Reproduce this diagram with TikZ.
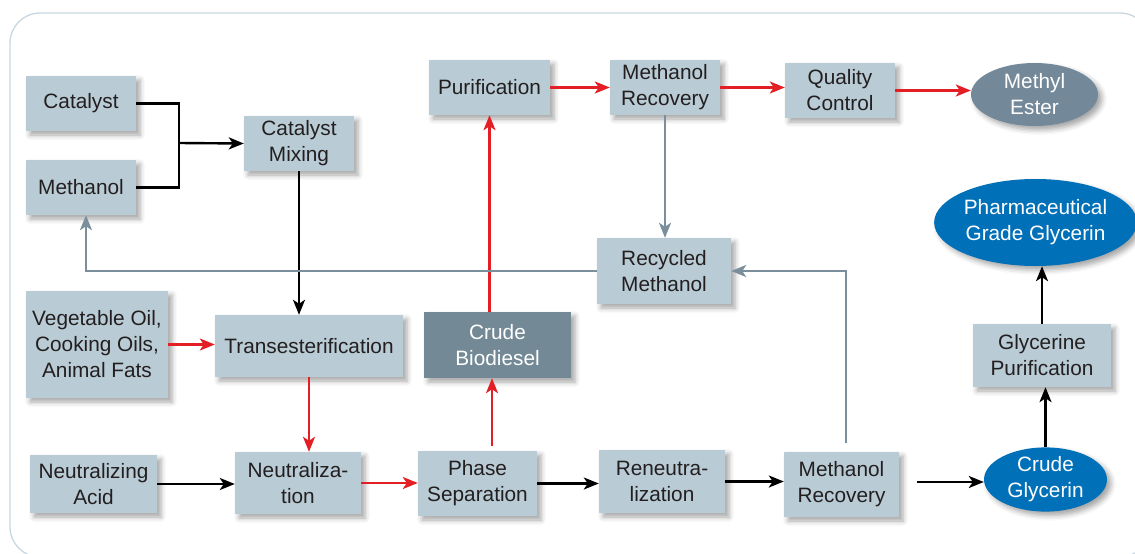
\documentclass[tikz,border=0pt]{standalone}
\usepackage{fontspec}
\setmainfont{Liberation Sans}
\usetikzlibrary{arrows.meta,shapes.geometric,shadows.blur}
\definecolor{boxc}{HTML}{B9CBD4}
\definecolor{darkbox}{HTML}{738A96}
\definecolor{esterc}{HTML}{73899A}
\definecolor{bluec}{HTML}{0070B8}
\definecolor{redc}{HTML}{E31E24}
\definecolor{grayc}{HTML}{7A8F9B}
\definecolor{framec}{HTML}{C8D7DF}
\definecolor{txtc}{HTML}{231F20}
\tikzset{
  shad/.style={blur shadow={shadow xshift=4pt, shadow yshift=-4pt, shadow blur radius=5pt, shadow opacity=35}},
  box/.style={rectangle, fill=boxc, inner sep=0pt, align=center, text=txtc, shad,
    font=\fontsize{20.8}{26}\selectfont},
  dbox/.style={box, fill=darkbox, text=white},
  ell/.style={ellipse, inner sep=0pt, align=center, text=white, shad,
    font=\fontsize{20.8}{26}\selectfont},
  tip/.style={-{Stealth[length=15pt,width=12pt,inset=4pt]}},
  blk/.style={draw=black, line width=2.4pt},
  blka/.style={blk, tip},
  reda/.style={draw=redc, line width=2.4pt, tip},
  grya/.style={draw=grayc, line width=2.4pt, tip},
}
\begin{document}
\begin{tikzpicture}[x=1pt,y=-1pt]
\useasboundingbox (0,0) rectangle (1135,554);
\draw[framec, line width=1.3pt, rounded corners=30pt] (10,13) rectangle (1150,557);

% nodes
\node[box, minimum width=110, minimum height=55] (cat) at (81,103.5) {Catalyst};
\node[box, minimum width=110, minimum height=55] (meth) at (81,187.5) {Methanol};
\node[box, minimum width=110, minimum height=55] (mix) at (299,143.5) {Catalyst\\Mixing};
\node[box, minimum width=121, minimum height=55] (pur) at (489.5,87.5) {Purification};
\node[box, minimum width=110, minimum height=55] (mr1) at (665,87.5) {Methanol\\Recovery};
\node[box, minimum width=110, minimum height=55] (qc) at (840,90.5) {Quality\\Control};
\node[ell, fill=esterc, minimum width=127, minimum height=63] (me) at (1034.5,94.5) {Methyl\\Ester};
\node[ell, fill=bluec, minimum width=191, minimum height=87] (pg) at (1035.5,222.5) {Pharmaceutical\\Grade Glycerin};
\node[box, minimum width=134, minimum height=66] (rm) at (664,271) {Recycled\\Methanol};
\node[box, minimum width=142, minimum height=107] (veg) at (97,344.5) {Vegetable Oil,\\Cooking Oils,\\Animal Fats};
\node[box, minimum width=188, minimum height=62] (trans) at (309,346) {Transesterification};
\node[dbox, minimum width=147, minimum height=66] (cb) at (497.5,345) {Crude\\Biodiesel};
\node[box, minimum width=138, minimum height=63] (gp) at (1042,355.5) {Glycerine\\Purification};
\node[box, minimum width=127, minimum height=58] (acid) at (93.5,484) {Neutralizing\\Acid};
\node[box, minimum width=126, minimum height=62] (neut) at (298,483) {Neutraliza-\\tion};
\node[box, minimum width=119, minimum height=65] (ph) at (477.5,483.5) {Phase\\Separation};
\node[box, minimum width=126, minimum height=63] (rn) at (662,481.5) {Reneutra-\\lization};
\node[box, minimum width=115, minimum height=65] (mr2) at (841.5,484.5) {Methanol\\Recovery};
\node[ell, fill=bluec, minimum width=123, minimum height=61] (cg) at (1045.5,479.5) {Crude\\Glycerin};

\coordinate (j) at (179,143);
\coordinate (phtop) at (492,446);
\coordinate (mrtop) at (846,443);
\coordinate (mrout) at (917,482);

% connectors
\draw[blk] (cat.east) -| (j);
\draw[blk] (meth.east) -| (j);
\draw[blka] (j) -- (mix.west);
\draw[blka] (mix.south) -- (mix.south |- trans.north);
\draw[reda] (veg.east) -- (veg.east -| trans.west);
\draw[reda] (trans.south) -- (trans.south |- neut.north);
\draw[blka] (acid.east) -- (acid.east -| neut.west);
\draw[reda] (neut.east) -- (neut.east -| ph.west);
\draw[reda] (phtop) -- (phtop |- cb.south);
\draw[reda] (pur.south |- cb.north) -- (pur.south);
\draw[reda] (pur.east) -- (pur.east -| mr1.west);
\draw[reda] (mr1.east) -- (mr1.east -| qc.west);
\draw[reda] (qc.east) -- (qc.east -| me.west);
\draw[grya] (mr1.south) -- (mr1.south |- rm.north);
\draw[grya] (rm.west) -| ([xshift=5pt]meth.south);
\draw[grya] (mrtop) |- (rm.east);
\draw[blka] (ph.east) -- (ph.east -| rn.west);
\draw[blka] (rn.east) -- (rn.east -| mr2.west);
\draw[blka] (mrout) -- (mrout -| cg.west);
\draw[blka] (cg.north) -- (cg.north |- gp.south);
\draw[blka] (gp.north) -- (gp.north |- pg.south);
\end{tikzpicture}
\end{document}
